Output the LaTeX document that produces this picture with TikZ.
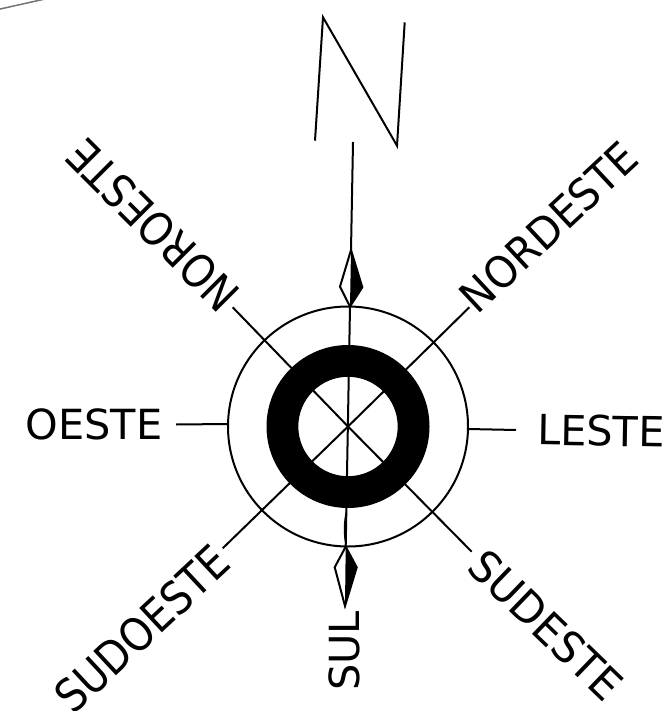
\documentclass[tikz,border=0pt]{standalone}
\usepackage{fontspec}
\setmainfont{DejaVu Sans}
\begin{document}
\begin{tikzpicture}[x=1pt, y=-1pt,
  label/.style={font=\fontsize{41.5}{48}\selectfont, inner sep=0pt},
  thinline/.style={line width=2pt},
  halfleaf/.style={fill=black, draw=none}
]
  \useasboundingbox (0,0) rectangle (669,711);

  % Canto
  \draw[line width=1.5pt, black!55] (-2,9.5) -- (45,-1);

  % Pontos
  \coordinate (centro) at (348,426.5);
  \coordinate (norteTopo) at (353,142);
  \coordinate (norteA) at (351,250);
  \coordinate (norteB) at (350,306.5);
  \coordinate (norteDir) at (362.3,287.3);
  \coordinate (norteEsq) at (340,286.7);
  \coordinate (sulA) at (345.7,546.7);
  \coordinate (sulB) at (345,606);
  \coordinate (sulDir) at (356.7,567.3);
  \coordinate (sulEsq) at (334.7,567.3);
  \coordinate (fimNO) at (232.7,307.3);
  \coordinate (fimNE) at (469.3,307.3);
  \coordinate (fimSO) at (222.7,548.3);
  \coordinate (fimSE) at (471.7,551.7);
  \coordinate (fimO1) at (176,424.5);
  \coordinate (fimO2) at (228,424);
  \coordinate (fimL1) at (468,429);
  \coordinate (fimL2) at (516,430);

  % Linhas
  \draw[thinline] (norteTopo) -- (norteA);
  \draw[thinline] (norteB) -- (sulA);
  \draw[thinline] (fimNO) -- (centro) -- (fimSE);
  \draw[thinline] (fimNE) -- (centro) -- (fimSO);
  \draw[thinline] (fimO1) -- (fimO2);
  \draw[thinline] (fimL1) -- (fimL2);
  \fill (346.5,508) .. controls (343,522) and (343,535) .. (345.7,546.7) -- (346.5,530) -- cycle;

  % Circulos
  \draw[thinline] (centro) circle (120);
  \fill[black, even odd rule] (348,426.5) circle (81.5) circle (49.7);

  % Losangos
  \fill[halfleaf] (norteA) -- (norteDir) -- (norteB) -- cycle;
  \draw[thinline] (norteA) -- (norteDir) -- (norteB) -- (norteEsq) -- cycle;
  \fill[halfleaf] (sulA) -- (sulDir) -- (sulB) -- cycle;
  \draw[thinline] (sulA) -- (sulDir) -- (sulB) -- (sulEsq) -- cycle;

  % Letra N
  \draw[thinline] (315,140.7) -- (323,17.3) -- (397,145.7) -- (404.7,22.3);

  % Rotulos
  \node[label] (oeste) at (94,424) {OESTE};
  \node[label, rotate=-1] (leste) at (601,431) {LESTE};
  \node[label, rotate=43, xscale=.98, yscale=1.05] (nordeste) at (549,227) {NORDESTE};
  \node[label, rotate=135, xscale=.96, yscale=1.1] (noroeste) at (153,225) {NOROESTE};
  \node[label, rotate=43, xscale=.97, yscale=1.1] (sudoeste) at (142,629) {SUDOESTE};
  \node[label, rotate=-44, yscale=1.05] (sudeste) at (546,625) {SUDESTE};
  \node[label, rotate=90] (sul) at (344,651) {SUL};
\end{tikzpicture}
\end{document}
